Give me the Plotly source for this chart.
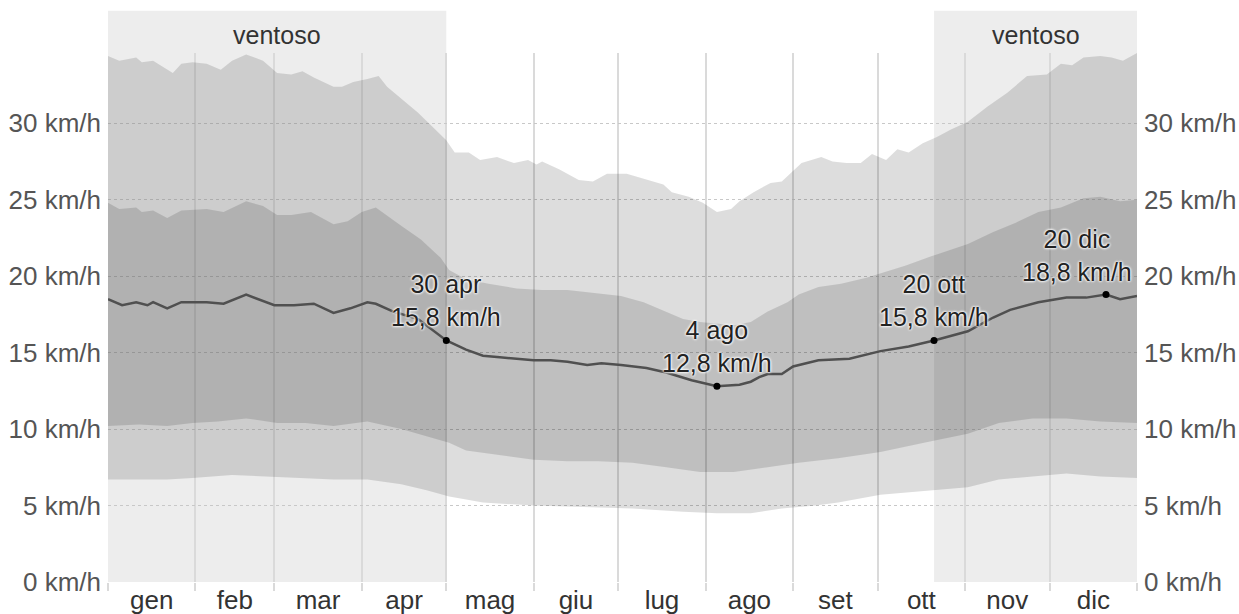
import numpy as np
import plotly.graph_objects as go

# ---------------- data ----------------
months = ["gen", "feb", "mar", "apr", "mag", "giu", "lug", "ago", "set", "ott", "nov", "dic"]
month_len = [31, 28, 31, 30, 31, 30, 31, 31, 30, 31, 30, 31]

y_ticks = [0, 5, 10, 15, 20, 25, 30]

# windy ("ventoso") periods, day of year
windy_from = [0, 293]
windy_to = [120, 365]

# 90th percentile
p90_days = [0, 4, 10, 12, 16, 21, 23, 26, 30, 35, 40, 44, 49, 55, 60, 65, 69, 73, 80, 83, 87, 92, 96, 99,
            104, 110, 115, 120, 123, 128, 132, 138, 144, 149, 152, 154, 160, 167, 172, 177, 184, 191, 197,
            200, 206, 211, 216, 221, 224, 229, 235, 239, 243, 246, 253, 257, 262, 267, 271, 276, 280, 284,
            289, 294, 299, 305, 312, 319, 326, 333, 338, 342, 346, 352, 356, 360, 365]
p90_vals = [34.4, 34.1, 34.3, 34.0, 34.1, 33.5, 33.3, 33.9, 34.0, 33.9, 33.5, 34.1, 34.5, 34.1, 33.3, 33.2,
            33.4, 33.0, 32.4, 32.4, 32.7, 32.9, 33.1, 32.4, 31.6, 30.7, 29.8, 28.9, 28.1, 28.1, 27.6, 27.8,
            27.4, 27.6, 27.3, 27.5, 27.0, 26.3, 26.2, 26.7, 26.7, 26.3, 26.0, 25.5, 25.2, 24.8, 24.2, 24.4,
            24.9, 25.5, 26.1, 26.2, 26.9, 27.4, 27.8, 27.5, 27.4, 27.4, 28.0, 27.6, 28.3, 28.1, 28.7, 29.1,
            29.6, 30.1, 31.1, 32.0, 33.1, 33.2, 33.9, 33.8, 34.3, 34.4, 34.3, 34.1, 34.6]

# 75th percentile
p75_days = [0, 4, 10, 12, 16, 21, 26, 35, 41, 49, 55, 60, 65, 72, 80, 85, 90, 95, 104, 111, 118, 121, 127,
            135, 145, 154, 163, 172, 182, 190, 198, 204, 210, 216, 222, 228, 234, 241, 245, 252, 260, 269,
            274, 283, 292, 305, 314, 322, 330, 338, 346, 352, 359, 365]
p75_vals = [24.8, 24.4, 24.5, 24.2, 24.3, 23.8, 24.3, 24.4, 24.2, 24.9, 24.6, 24.0, 24.0, 24.2, 23.4, 23.6,
            24.2, 24.5, 23.3, 22.4, 21.2, 20.4, 19.8, 19.5, 19.2, 19.1, 19.1, 18.9, 18.7, 18.3, 17.7, 17.2,
            17.0, 16.9, 16.8, 17.0, 17.7, 18.3, 18.8, 19.3, 19.5, 19.9, 20.2, 20.7, 21.3, 22.1, 22.9, 23.5,
            24.2, 24.5, 25.1, 25.2, 24.9, 25.0]

# mean
mean_days = [0, 5, 10, 14, 16, 21, 26, 35, 41, 49, 59, 66, 73, 80, 86, 92, 95, 101, 110, 120, 127, 133, 139,
             151, 157, 163, 170, 175, 182, 186, 191, 198, 207, 216, 224, 228, 231, 234, 239, 243, 252, 263,
             269, 274, 284, 293, 305, 314, 320, 330, 340, 347, 354, 359, 365]
mean_vals = [18.5, 18.1, 18.3, 18.1, 18.3, 17.9, 18.3, 18.3, 18.2, 18.8, 18.1, 18.1, 18.2, 17.6, 17.9, 18.3,
             18.2, 17.7, 17.2, 15.8, 15.2, 14.8, 14.7, 14.5, 14.5, 14.4, 14.2, 14.3, 14.2, 14.1, 14.0, 13.7,
             13.2, 12.8, 12.9, 13.1, 13.4, 13.6, 13.6, 14.1, 14.5, 14.6, 14.9, 15.1, 15.4, 15.8, 16.4, 17.3,
             17.8, 18.3, 18.6, 18.6, 18.8, 18.5, 18.7]

# 25th percentile
p25_days = [0, 11, 21, 30, 39, 49, 60, 70, 80, 92, 104, 113, 121, 127, 139, 151, 163, 174, 186, 198, 210,
            216, 222, 234, 245, 259, 274, 292, 305, 316, 328, 340, 352, 365]
p25_vals = [10.2, 10.3, 10.2, 10.4, 10.5, 10.7, 10.4, 10.4, 10.2, 10.5, 10.0, 9.5, 9.1, 8.6, 8.3, 8.0, 7.9,
            7.9, 7.8, 7.5, 7.2, 7.2, 7.2, 7.5, 7.8, 8.1, 8.5, 9.2, 9.7, 10.4, 10.7, 10.7, 10.5, 10.4]

# 10th percentile
p10_days = [0, 9, 21, 30, 44, 56, 68, 80, 92, 104, 113, 121, 133, 151, 168, 186, 204, 216, 228, 239, 251,
            259, 274, 292, 305, 316, 328, 340, 352, 365]
p10_vals = [6.7, 6.7, 6.7, 6.8, 7.0, 6.9, 6.8, 6.7, 6.7, 6.4, 6.0, 5.6, 5.2, 5.0, 4.9, 4.8, 4.6, 4.5, 4.5,
            4.8, 5.0, 5.2, 5.7, 6.0, 6.2, 6.7, 6.9, 7.1, 6.9, 6.8]

# labelled extremes
ann_days = [120, 216, 293, 354]
ann_dates = ["30 apr", "4 ago", "20 ott", "20 dic"]
ann_vals = [15.8, 12.8, 15.8, 18.8]
ann_xshift = [0, 0, 0, -29]

# ---------------- figure ----------------
FONT = "Liberation Sans, Arial, sans-serif"
month_start = np.concatenate([[0], np.cumsum(month_len)])
month_mid = (month_start[:-1] + month_start[1:]) / 2
y_max = 34.6

fig = go.Figure()

# 10-90 band
fig.add_trace(go.Scatter(
    x=p90_days + p10_days[::-1], y=p90_vals + p10_vals[::-1],
    mode="lines", fill="toself", fillcolor="rgba(0,0,0,0.135)",
    line=dict(width=0), hoverinfo="skip", showlegend=False))
# 25-75 band
fig.add_trace(go.Scatter(
    x=p75_days + p25_days[::-1], y=p75_vals + p25_vals[::-1],
    mode="lines", fill="toself", fillcolor="rgba(0,0,0,0.135)",
    line=dict(width=0), hoverinfo="skip", showlegend=False))
# mean
fig.add_trace(go.Scatter(
    x=mean_days, y=mean_vals, mode="lines",
    line=dict(color="#505050", width=2.5), showlegend=False))
# points
fig.add_trace(go.Scatter(
    x=ann_days, y=ann_vals, mode="markers",
    marker=dict(color="black", size=7), showlegend=False))

for a, b in zip(windy_from, windy_to):
    fig.add_shape(type="rect", xref="x", yref="paper", x0=a, x1=b, y0=0, y1=1.08,
                  fillcolor="rgba(0,0,0,0.07)", line_width=0, layer="below")
    fig.add_annotation(x=(a + b) / 2, xref="x", yref="paper", y=1.034, yanchor="middle",
                       text="ventoso", showarrow=False,
                       font=dict(family=FONT, size=25, color="#333333"))

halo = "0px 0px 3px white, 0px 0px 3px white, 0px 0px 2px white"
for d, lab, v, xs in zip(ann_days, ann_dates, ann_vals, ann_xshift):
    txt = f"{lab}<br>{v:.1f}".replace(".", ",") + " km/h"
    fig.add_annotation(x=d, y=v, text=txt, showarrow=False, yanchor="bottom", yshift=7, xshift=xs,
                       font=dict(family=FONT, size=25, color="#222222", shadow=halo))

tick_text = [f"{t} km/h" for t in y_ticks]
fig.update_layout(
    width=1239, height=614,
    margin=dict(l=108, r=102, t=53, b=32),
    paper_bgcolor="white", plot_bgcolor="white",
    font=dict(family=FONT),
    xaxis=dict(range=[0, 365], tickvals=month_mid, ticktext=months, ticks="", showgrid=False,
               zeroline=False, showline=False, tickfont=dict(size=26, color="#333333"),
               minor=dict(tickvals=month_start, showgrid=True, gridcolor="#dadada", gridwidth=1.5,
                          ticks="outside", ticklen=8, tickcolor="#dadada", tickwidth=1.5),
               automargin=False),
    yaxis=dict(range=[0, y_max], tickvals=y_ticks, ticktext=tick_text, showgrid=True,
               gridcolor="#c8c8c8", griddash="dot", gridwidth=1, zeroline=False, showline=False,
               tickfont=dict(size=26, color="#555555"), automargin=False, ticklabelstandoff=6),
    yaxis2=dict(range=[0, y_max], tickvals=y_ticks, ticktext=tick_text, overlaying="y", side="right",
                showgrid=False, zeroline=False, showline=False, matches="y",
                tickfont=dict(size=26, color="#555555"), automargin=False, ticklabelstandoff=6),
    showlegend=False,
)
fig.add_trace(go.Scatter(x=[0], y=[0], yaxis="y2", mode="markers", marker=dict(opacity=0),
                         hoverinfo="skip", showlegend=False))

fig.write_html("out.html", config={"displayModeBar": False},
               post_script="document.body.style.margin='0px';")
